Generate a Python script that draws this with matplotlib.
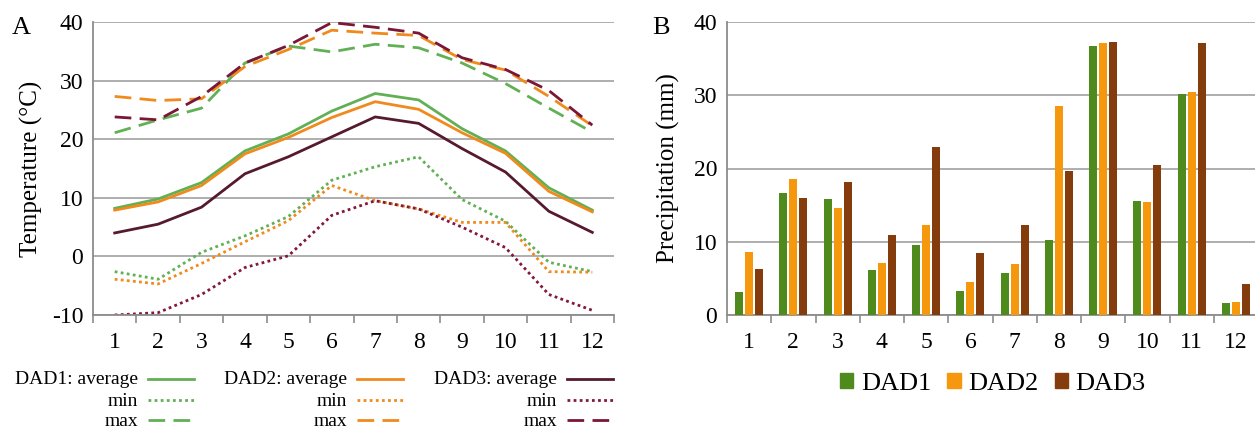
import numpy as np
import matplotlib
matplotlib.use('Agg')
import matplotlib.pyplot as plt
from matplotlib.lines import Line2D
from matplotlib.patches import Rectangle

plt.rcParams.update({'font.family': ['Liberation Serif', 'DejaVu Serif'],
                     'font.size': 17, 'axes.unicode_minus': False})

months = np.arange(1, 13)

# temperature (°C)
dad1_avg = [8.2, 9.8, 12.6, 18.0, 20.9, 24.8, 27.8, 26.7, 21.8, 18.0, 11.7, 7.9]
dad1_min = [-2.6, -3.9, 0.7, 3.5, 6.8, 13.0, 15.3, 17.0, 9.7, 6.0, -1.0, -2.6]
dad1_max = [21.1, 23.3, 25.3, 33.0, 35.9, 34.9, 36.2, 35.6, 33.0, 29.5, 25.3, 21.2]
dad2_avg = [7.9, 9.3, 12.1, 17.5, 20.3, 23.7, 26.4, 25.1, 21.1, 17.6, 11.1, 7.6]
dad2_min = [-3.9, -4.7, -1.2, 2.5, 6.1, 12.1, 9.5, 8.1, 5.8, 5.8, -2.6, -2.7]
dad2_max = [27.3, 26.6, 26.9, 32.4, 35.3, 38.6, 38.1, 37.7, 33.6, 31.8, 27.3, 22.3]
dad3_avg = [4.0, 5.5, 8.4, 14.1, 17.0, 20.4, 23.8, 22.7, 18.4, 14.4, 7.7, 4.1]
dad3_min = [-10.0, -9.6, -6.5, -1.9, 0.1, 7.0, 9.5, 8.1, 5.0, 1.5, -6.5, -9.2]
dad3_max = [23.8, 23.3, 27.3, 33.0, 36.0, 39.9, 39.1, 38.1, 33.9, 31.9, 28.3, 22.4]

# precipitation (mm)
prec_dad1 = [3.1, 16.6, 15.9, 6.2, 9.5, 3.3, 5.7, 10.3, 36.7, 15.6, 30.2, 1.6]
prec_dad2 = [8.6, 18.5, 14.6, 7.1, 12.3, 4.5, 7.0, 28.5, 37.1, 15.4, 30.5, 1.8]
prec_dad3 = [6.3, 16.0, 18.2, 10.9, 22.9, 8.5, 12.3, 19.7, 37.3, 20.5, 37.1, 4.2]

c_line = {'DAD1': ('#62B055', '#62B055', '#62B055'),
          'DAD2': ('#F08A1C', '#F08A1C', '#F08A1C'),
          'DAD3': ('#561A2E', '#82183C', '#7A1636')}
c_bar = ['#4F8A1C', '#F5980E', '#843C0C']
grid_c = '#A8A8A8'
spine_c = '#8C8C8C'

ls_avg = '-'
ls_min = (0, (1, 1.2))
ls_max = (0, (6, 3))

fig = plt.figure(figsize=(12.55, 4.28), dpi=100)
W, H = 1255, 428


def style_ax(ax, ylim, yticks):
    ax.set_xlim(0.5, 12.5)
    ax.set_ylim(*ylim)
    ax.set_yticks(yticks)
    ax.set_xticks(months)
    ax.set_xticks(np.arange(0.5, 13, 1), minor=True)
    ax.tick_params(axis='x', which='major', length=0, pad=12, labelsize=17)
    ax.tick_params(axis='x', which='minor', length=6, color=spine_c, width=1.2)
    ax.tick_params(axis='y', length=0, pad=7, labelsize=17)
    ax.grid(axis='y', color=grid_c, lw=1.3)
    ax.set_axisbelow(True)
    for s in ['top', 'right']:
        ax.spines[s].set_visible(False)
    for s in ['left', 'bottom']:
        ax.spines[s].set_color(spine_c)
        ax.spines[s].set_linewidth(1.3)


# ===== panel A =====
axA = fig.add_axes([93 / W, 1 - 315 / H, 521 / W, 293 / H])
series = [('DAD1', dad1_avg, dad1_min, dad1_max),
          ('DAD2', dad2_avg, dad2_min, dad2_max),
          ('DAD3', dad3_avg, dad3_min, dad3_max)]
for name, avg, mn, mx in series:
    ca, cn, cx = c_line[name]
    axA.plot(months, mx, color=cx, ls=ls_max, lw=2)
    axA.plot(months, avg, color=ca, ls=ls_avg, lw=2)
    axA.plot(months, mn, color=cn, ls=ls_min, lw=2)
style_ax(axA, (-10, 40), np.arange(-10, 41, 10))
axA.set_ylabel('Temperature (°C)', fontsize=18, labelpad=6)
fig.text(12 / W, 1 - 28 / H, 'A', fontsize=19, va='center')

# legend for A (manual, right-aligned text + line sample)
col_x = [138, 347, 557]
row_y = [380, 401, 421]
for (name, _, _, _), tx in zip(series, col_x):
    ca, cn, cx = c_line[name]
    rows = [(name + ': average', ca, ls_avg), ('min', cn, ls_min), ('max', cx, ls_max)]
    for (lab, col, ls), ty in zip(rows, row_y):
        fig.text(tx / W, 1 - ty / H, lab, fontsize=14, ha='right', va='center')
        fig.add_artist(Line2D([(tx + 10) / W, (tx + 56) / W], [1 - (ty - 1) / H] * 2,
                              color=col, ls=ls, lw=2, transform=fig.transFigure))

# ===== panel B =====
axB = fig.add_axes([727 / W, 1 - 315 / H, 531 / W, 293 / H])
bw = 0.18
step = 0.226
for i, (vals, col, lab) in enumerate(zip([prec_dad1, prec_dad2, prec_dad3], c_bar,
                                         ['DAD1', 'DAD2', 'DAD3'])):
    axB.bar(months + (i - 1) * step, vals, width=bw, color=col, label=lab, zorder=3)
style_ax(axB, (0, 40), np.arange(0, 41, 10))
axB.set_ylabel('Precipitation (mm)', fontsize=18, labelpad=10)
fig.text(652 / W, 1 - 28 / H, 'B', fontsize=19, va='center')

handles = [Rectangle((0, 0), 1, 1, color=c) for c in c_bar]
fig.legend(handles, ['DAD1', 'DAD2', 'DAD3'], loc='center', ncol=3,
           bbox_to_anchor=(993 / W, 1 - 384 / H), frameon=False, fontsize=19,
           handlelength=0.5, handleheight=0.5, handletextpad=0.3, columnspacing=0.6)

fig.savefig('out.png', dpi=100)
